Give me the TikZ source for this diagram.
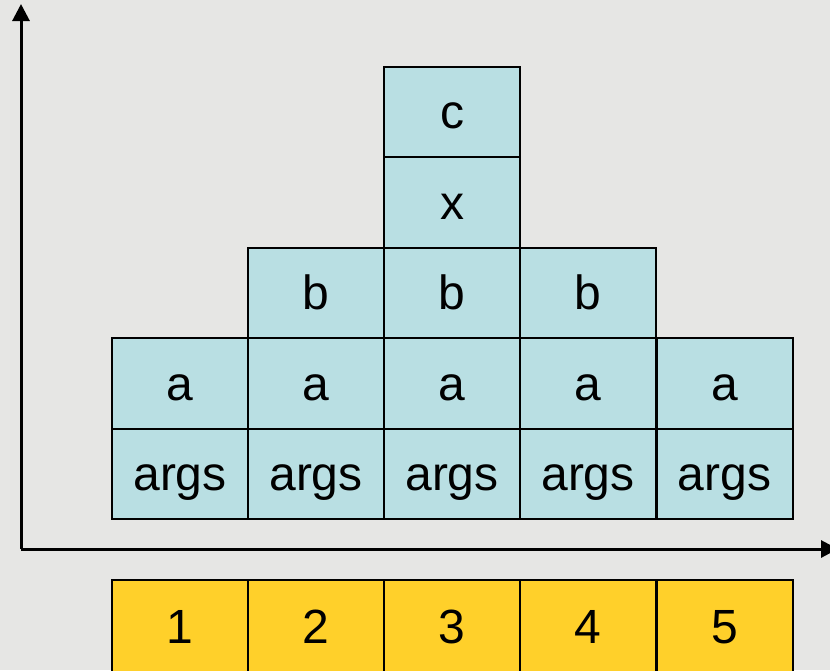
\documentclass[tikz,border=0pt]{standalone}
\usepackage{fontspec}
\setmainfont{Liberation Sans}
\usetikzlibrary{arrows.meta}
\definecolor{bgcol}{HTML}{E6E6E4}
\definecolor{frameblue}{HTML}{B9DFE3}
\definecolor{slotyellow}{HTML}{FFD02A}
\begin{document}
\begin{tikzpicture}[x=1pt,y=-1pt,
  cell/.style={draw=black, line width=2pt, fill=frameblue, minimum width=136pt, minimum height=90.5pt, inner sep=0pt, anchor=center, text height=41pt, text depth=8pt, font=\fontsize{48}{54}\selectfont},
  slot/.style={cell, fill=slotyellow, minimum height=94pt},
  axis/.style={line width=3pt, -{Triangle[length=17pt,width=17pt]}}]
\useasboundingbox (0,0) rectangle (830,670);
\fill[bgcol] (0,0) rectangle (830,670);
\begin{scope}
\clip (0,0) rectangle (830,670);
% stack cells
\foreach \i/\cx in {1/180,2/316,3/452,4/588,5/724.5} {
  \node[cell] (args\i) at (\cx,474) {args};
  \node[cell] (a\i) at (\cx,383.5) {a};
  \node[slot] (s\i) at (\cx,627) {\i};
}
\foreach \i/\cx in {2/316,3/452,4/588} {
  \node[cell] (b\i) at (\cx,293) {b};
}
\node[cell] (x3) at (452,202.5) {x};
\node[cell] (c3) at (452,112) {c};
% axes
\coordinate (origin) at (21,549);
\coordinate (ytop) at (21,4);
\coordinate (xend) at (838,549);
\draw[axis] (origin) -- (ytop);
\draw[axis] (origin) -- (xend);
\end{scope}
\end{tikzpicture}
\end{document}
